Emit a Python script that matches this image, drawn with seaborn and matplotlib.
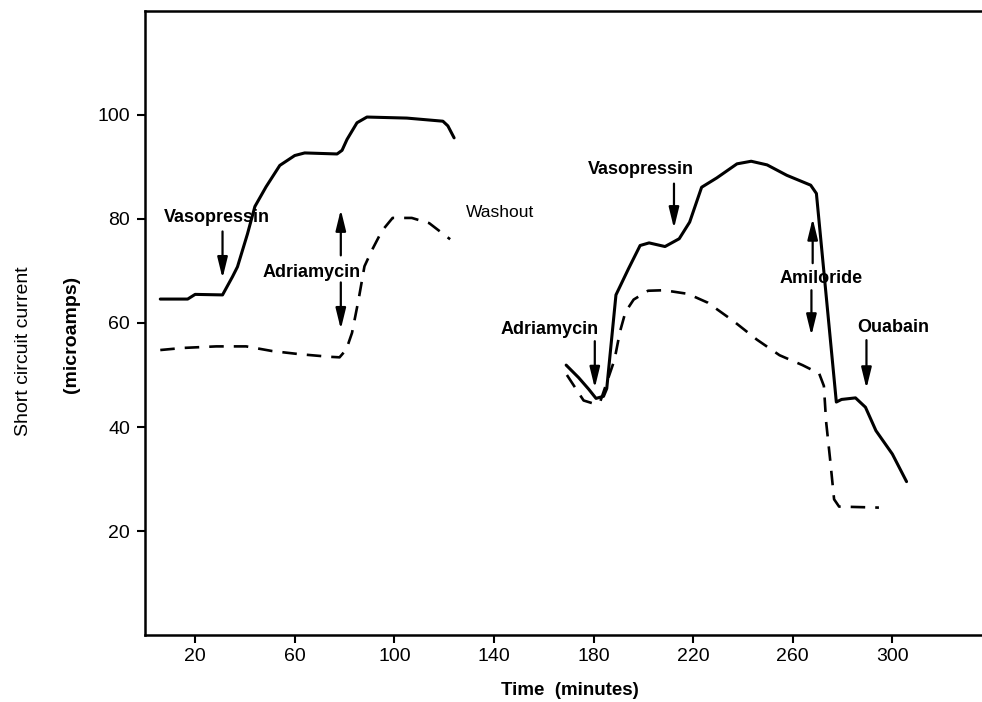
import matplotlib
matplotlib.use("Agg")
import matplotlib.pyplot as plt
import seaborn as sns
import pandas as pd

# ---- data ----
left_solid_t = [6, 17, 20, 31, 35, 37, 41, 44, 48.5, 54, 60, 64, 77, 79, 81, 85, 89, 105, 119.5, 121.5, 124]
left_solid_v = [64.6, 64.6, 65.5, 65.4, 68.9, 70.8, 77.1, 82.4, 86.2, 90.3, 92.2, 92.7, 92.5, 93.2, 95.3, 98.5, 99.6, 99.4, 98.8, 97.9, 95.6]

left_dash_t = [6, 15, 28.5, 40.5, 51, 62, 74, 78, 80.7, 83, 85.6, 88, 91, 95, 99.3, 107, 114, 122.4]
left_dash_v = [54.8, 55.2, 55.5, 55.5, 54.6, 54.0, 53.5, 53.4, 54.9, 58.1, 64.4, 70.9, 74.0, 77.7, 80.2, 80.2, 79.2, 76.1]

right_solid_t = [169, 174, 178, 181, 184, 185.3, 189, 194, 198.7, 202.3, 208.7, 214.4, 218.6, 223.4, 229.5,
                 237.6, 243.3, 249.7, 257.6, 267.2, 269.5, 277.5, 279.6, 285.2, 289.2, 293.4, 300, 305.7]
right_solid_v = [51.9, 49.5, 47.3, 45.5, 45.9, 47.4, 65.4, 70.4, 74.9, 75.4, 74.7, 76.2, 79.4, 86.1, 87.9,
                 90.6, 91.1, 90.4, 88.4, 86.5, 84.9, 44.8, 45.3, 45.6, 43.8, 39.3, 34.8, 29.5]

right_dash_t = [169.3, 176, 180.7, 182.7, 188.4, 190.6, 192.8, 196.1, 201.9, 208.3, 217.9, 225.9, 236.1,
                245.6, 254.7, 263.9, 270.6, 272.5, 273.4, 275, 276.6, 278.6, 294.6]
right_dash_v = [50.0, 45.1, 44.4, 44.9, 52.9, 58.3, 62.1, 64.5, 66.2, 66.3, 65.6, 63.9, 60.4,
                56.8, 53.8, 51.9, 50.3, 47.9, 41.0, 33.8, 26.1, 24.7, 24.5]

x_ticks = [20, 60, 100, 140, 180, 220, 260, 300]
y_ticks = [20, 40, 60, 80, 100]

x_label = "Time  (minutes)"
y_label_1 = "Short circuit current"
y_label_2 = "(microamps)"

# ---- style ----
sns.set_style("ticks")
plt.rcParams["font.family"] = ["Liberation Sans", "DejaVu Sans"]
plt.rcParams["text.color"] = "black"
plt.rcParams["xtick.color"] = "black"
plt.rcParams["ytick.color"] = "black"
plt.rcParams["xtick.labelcolor"] = "black"
plt.rcParams["ytick.labelcolor"] = "black"

fig = plt.figure(figsize=(9.82, 7.02), dpi=100)
ax = fig.add_axes([0.148, 0.0954, 0.852, 0.889])

segments = [
    (left_solid_t, left_solid_v, "-"),
    (left_dash_t, left_dash_v, "--"),
    (right_solid_t, right_solid_v, "-"),
    (right_dash_t, right_dash_v, "--"),
]
for t, v, ls in segments:
    df = pd.DataFrame({"t": t, "v": v})
    line_kw = dict(color="black", sort=False, ax=ax, estimator=None)
    if ls == "-":
        sns.lineplot(data=df, x="t", y="v", linewidth=2.2, **line_kw)
    else:
        sns.lineplot(data=df, x="t", y="v", linewidth=1.9, **line_kw)
        ax.lines[-1].set_dashes((5.5, 3.8))

ax.set_xlim(0, 336)
ax.set_ylim(0, 120)
ax.set_xticks(x_ticks)
ax.set_yticks(y_ticks)
ax.set_xlabel("")
ax.set_ylabel("")
ax.tick_params(axis="both", direction="out", length=6, width=1.5, labelsize=14,
               color="black", labelcolor="black")
ax.tick_params(axis="x", pad=3)
ax.tick_params(axis="y", pad=5)
for s in ["left", "bottom", "top"]:
    ax.spines[s].set_linewidth(1.8)
    ax.spines[s].set_color("black")
ax.spines["right"].set_visible(False)

fig.text(0.58, 0.017, x_label, ha="center", va="center", fontsize=13.5, fontweight="bold", color="black")
fig.text(0.024, 0.50, y_label_1, rotation=90, ha="center", va="center", fontsize=14, color="black")
fig.text(0.073, 0.524, y_label_2, rotation=90, ha="center", va="center", fontsize=14,
         fontweight="bold", color="black")

arrow = dict(arrowstyle="-|>,head_length=0.9,head_width=0.22", color="black", lw=1.6,
             shrinkA=0, shrinkB=0, mutation_scale=14)

def label(txt, x, y, bold=True, size=13):
    ax.text(x, y, txt, ha="center", va="center", fontsize=size, color="black",
            fontweight="bold" if bold else "normal")

def arr(x0, y0, x1, y1):
    ax.annotate("", xy=(x1, y1), xytext=(x0, y0), arrowprops=arrow)

label("Vasopressin", 28.9, 80.2)
arr(31, 77.6, 31, 68.6)

label("Adriamycin", 66.6, 69.8)
arr(78.5, 73.0, 78.5, 81.8)
arr(78.5, 67.8, 78.5, 58.8)

ax.text(128.6, 81.2, "Washout", ha="left", va="center", fontsize=12.5, color="black")

label("Adriamycin", 162.5, 58.8)
arr(180.5, 56.5, 180.5, 47.5)

label("Vasopressin", 199, 89.5)
arr(212.3, 86.8, 212.3, 78.2)

label("Amiloride", 271.5, 68.5)
arr(268, 71.5, 268, 80.1)
arr(267.5, 66.3, 267.5, 57.6)

label("Ouabain", 300.4, 59.2)
arr(289.6, 56.7, 289.6, 47.4)

fig.savefig("out.png", dpi=100)
